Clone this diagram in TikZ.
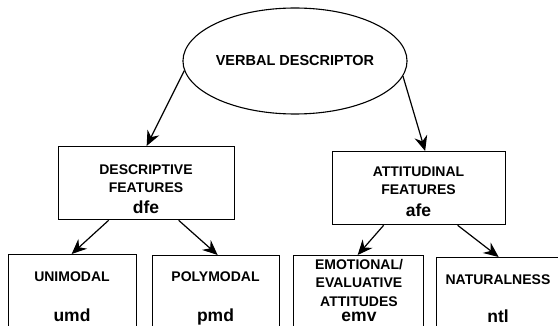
\documentclass[tikz,border=0pt]{standalone}
\usepackage{fontspec}
\setmainfont{Liberation Sans}
\usetikzlibrary{shapes.geometric,arrows.meta}
\begin{document}
\begin{tikzpicture}[x=1pt,y=-1pt,
  box/.style={draw, line width=1.3pt, inner sep=0pt, anchor=north west},
  captxt/.style={font=\fontsize{14}{16}\bfseries\selectfont, anchor=base, inner sep=0pt},
  codetxt/.style={font=\fontsize{17.5}{20}\bfseries\selectfont, anchor=base, inner sep=0pt},
  arr/.style={line width=1.2pt, -{Stealth[length=15pt,width=13pt,inset=5pt]}}]
\useasboundingbox (0,0) rectangle (558,326);
\clip (0,0) rectangle (558,326);
\node[draw, ellipse, line width=1.1pt, minimum width=196pt, minimum height=106pt, inner sep=0pt,
      font=\fontsize{14.5}{16}\bfseries\selectfont] (vd) at (295,61) {VERBAL DESCRIPTOR};
% descriptive
\node[box, minimum width=176pt, minimum height=73pt] (dfe) at (58,146) {};
\node[captxt] (dfe1) at (146,175) {DESCRIPTIVE};
\node[captxt] (dfe2) at (146,192.3) {FEATURES};
\node[codetxt] (dfe3) at (146,214) {dfe};
% attitudinal
\node[box, minimum width=173pt, minimum height=73pt] (afe) at (332,151) {};
\node[captxt] (afe1) at (418.5,176.7) {ATTITUDINAL};
\node[captxt] (afe2) at (418.5,195) {FEATURES};
\node[codetxt] (afe3) at (418.5,217) {afe};
% bottom row
\node[box, minimum width=128pt, minimum height=100pt] (umd) at (8,254) {};
\node[captxt] (umd1) at (72,281.7) {UNIMODAL};
\node[codetxt] (umd2) at (72,321.7) {umd};
\node[box, minimum width=127pt, minimum height=100pt] (pmd) at (152,255) {};
\node[captxt] (pmd1) at (215.5,281.7) {POLYMODAL};
\node[codetxt] (pmd2) at (215.5,321.7) {pmd};
\node[box, minimum width=130pt, minimum height=100pt] (emv) at (293,255) {};
\node[captxt] (emv1) at (359,270) {EMOTIONAL/};
\node[captxt] (emv2) at (359,288) {EVALUATIVE};
\node[captxt] (emv3) at (359,306.7) {ATTITUDES};
\node[codetxt] (emv4) at (359,322) {emv};
\node[box, minimum width=124pt, minimum height=100pt] (ntl) at (436,257) {};
\node[captxt] (ntl1) at (498,285) {NATURALNESS};
\node[codetxt] (ntl2) at (498,323) {ntl};
% arrows
\draw[arr] (vd.185) -- (dfe.north);
\draw[arr] (vd.352) -- ([xshift=6pt]afe.north);
\draw[arr] ([xshift=-38pt]dfe.south) -- ([xshift=-1pt]umd.north);
\draw[arr] ([xshift=32pt]dfe.south) -- ([xshift=1.5pt]pmd.north);
\draw[arr] ([xshift=-35.5pt]afe.south) -- ([xshift=-1pt]emv.north);
\draw[arr] ([xshift=38.5pt]afe.south) -- (ntl.north);
\end{tikzpicture}
\end{document}
